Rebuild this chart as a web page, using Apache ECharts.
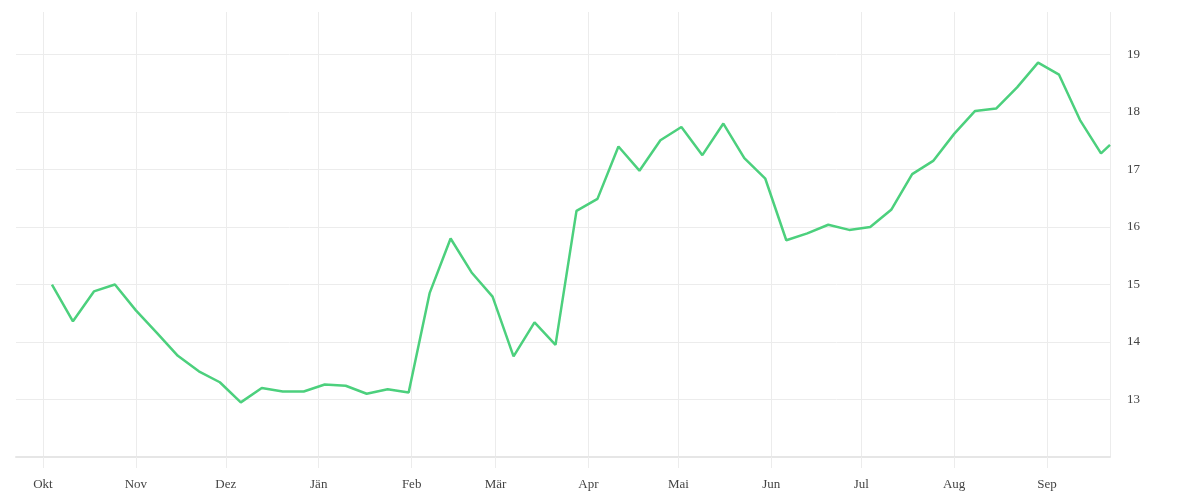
<!DOCTYPE html>
<html>
<head>
<meta charset="utf-8">
<script src="https://cdn.jsdelivr.net/npm/echarts@6/dist/echarts.min.js"></script>
<style>html,body{margin:0;padding:0;background:#fff}#c{width:1200px;height:500px}</style>
</head>
<body>
<div id="c"></div>
<script>
const dates = [
 '2022-10-04','2022-10-11','2022-10-18','2022-10-25','2022-11-01','2022-11-08','2022-11-15','2022-11-22','2022-11-29',
 '2022-12-06','2022-12-13','2022-12-20','2022-12-27','2023-01-03','2023-01-10','2023-01-17','2023-01-24','2023-01-31',
 '2023-02-07','2023-02-14','2023-02-21','2023-02-28','2023-03-07','2023-03-14','2023-03-21','2023-03-28','2023-04-04',
 '2023-04-11','2023-04-18','2023-04-25','2023-05-02','2023-05-09','2023-05-16','2023-05-23','2023-05-30','2023-06-06',
 '2023-06-13','2023-06-20','2023-06-27','2023-07-04','2023-07-11','2023-07-18','2023-07-25','2023-08-01','2023-08-08',
 '2023-08-15','2023-08-22','2023-08-29','2023-09-05','2023-09-12','2023-09-19','2023-09-22'
];
const values = [
 15.00,14.36,14.88,15.00,14.55,14.16,13.76,13.49,13.30,
 12.95,13.20,13.14,13.14,13.26,13.24,13.10,13.18,13.12,
 14.85,15.80,15.21,14.79,13.75,14.34,13.95,16.28,16.49,
 17.40,16.98,17.51,17.74,17.25,17.80,17.20,16.84,15.77,
 15.89,16.04,15.95,16.00,16.30,16.92,17.15,17.62,18.02,
 18.06,18.43,18.86,18.65,17.86,17.28,17.43
];
const monthLabels = ['Jän','Feb','Mär','Apr','Mai','Jun','Jul','Aug','Sep','Okt','Nov','Dez'];
const yTicks = [13,14,15,16,17,18,19];
const xStart = '2022-09-22';
const xEnd = '2023-09-22';

const gridColor = '#ececec';
const textStyle = {fontFamily: '"Liberation Serif", serif', fontSize: 13, color: '#444'};

const chart = echarts.init(document.getElementById('c'));
chart.setOption({
  useUTC: true,
  animation: false,
  grid: {left: 16, right: 90, top: 12, bottom: 43},
  xAxis: {
    type: 'time',
    min: xStart, max: xEnd,
    minInterval: 28 * 86400000,
    maxInterval: 31 * 86400000,
    axisLine: {show: true, lineStyle: {color: '#e6e6e6', width: 2}},
    axisTick: {show: true, length: 11, lineStyle: {color: gridColor}},
    splitLine: {show: true, showMinLine: false, showMaxLine: true, lineStyle: {color: gridColor, width: 1}},
    axisLabel: Object.assign({}, textStyle, {
      margin: 21,
      showMinLabel: false, showMaxLabel: false,
      hideOverlap: false,
      formatter: function (v) {
        const d = new Date(v);
        if (d.getUTCDate() !== 1) return '';
        return monthLabels[d.getUTCMonth()];
      }
    })
  },
  yAxis: {
    type: 'value',
    position: 'right',
    min: 12, max: 19.74, interval: 1,
    axisLine: {show: false},
    axisTick: {show: false},
    splitLine: {show: true, showMinLine: true, showMaxLine: false, lineStyle: {color: gridColor, width: 1}},
    axisLabel: Object.assign({}, textStyle, {
      margin: 17,
      align: 'left',
      formatter: function (v) { return yTicks.indexOf(v) >= 0 ? String(v) : ''; }
    })
  },
  series: [{
    type: 'line',
    data: dates.map((d, i) => [d, values[i]]),
    showSymbol: false,
    symbol: 'none',
    lineStyle: {color: '#4cd07d', width: 2.5},
    itemStyle: {color: '#4cd07d'}
  }]
});
</script>
</body>
</html>
